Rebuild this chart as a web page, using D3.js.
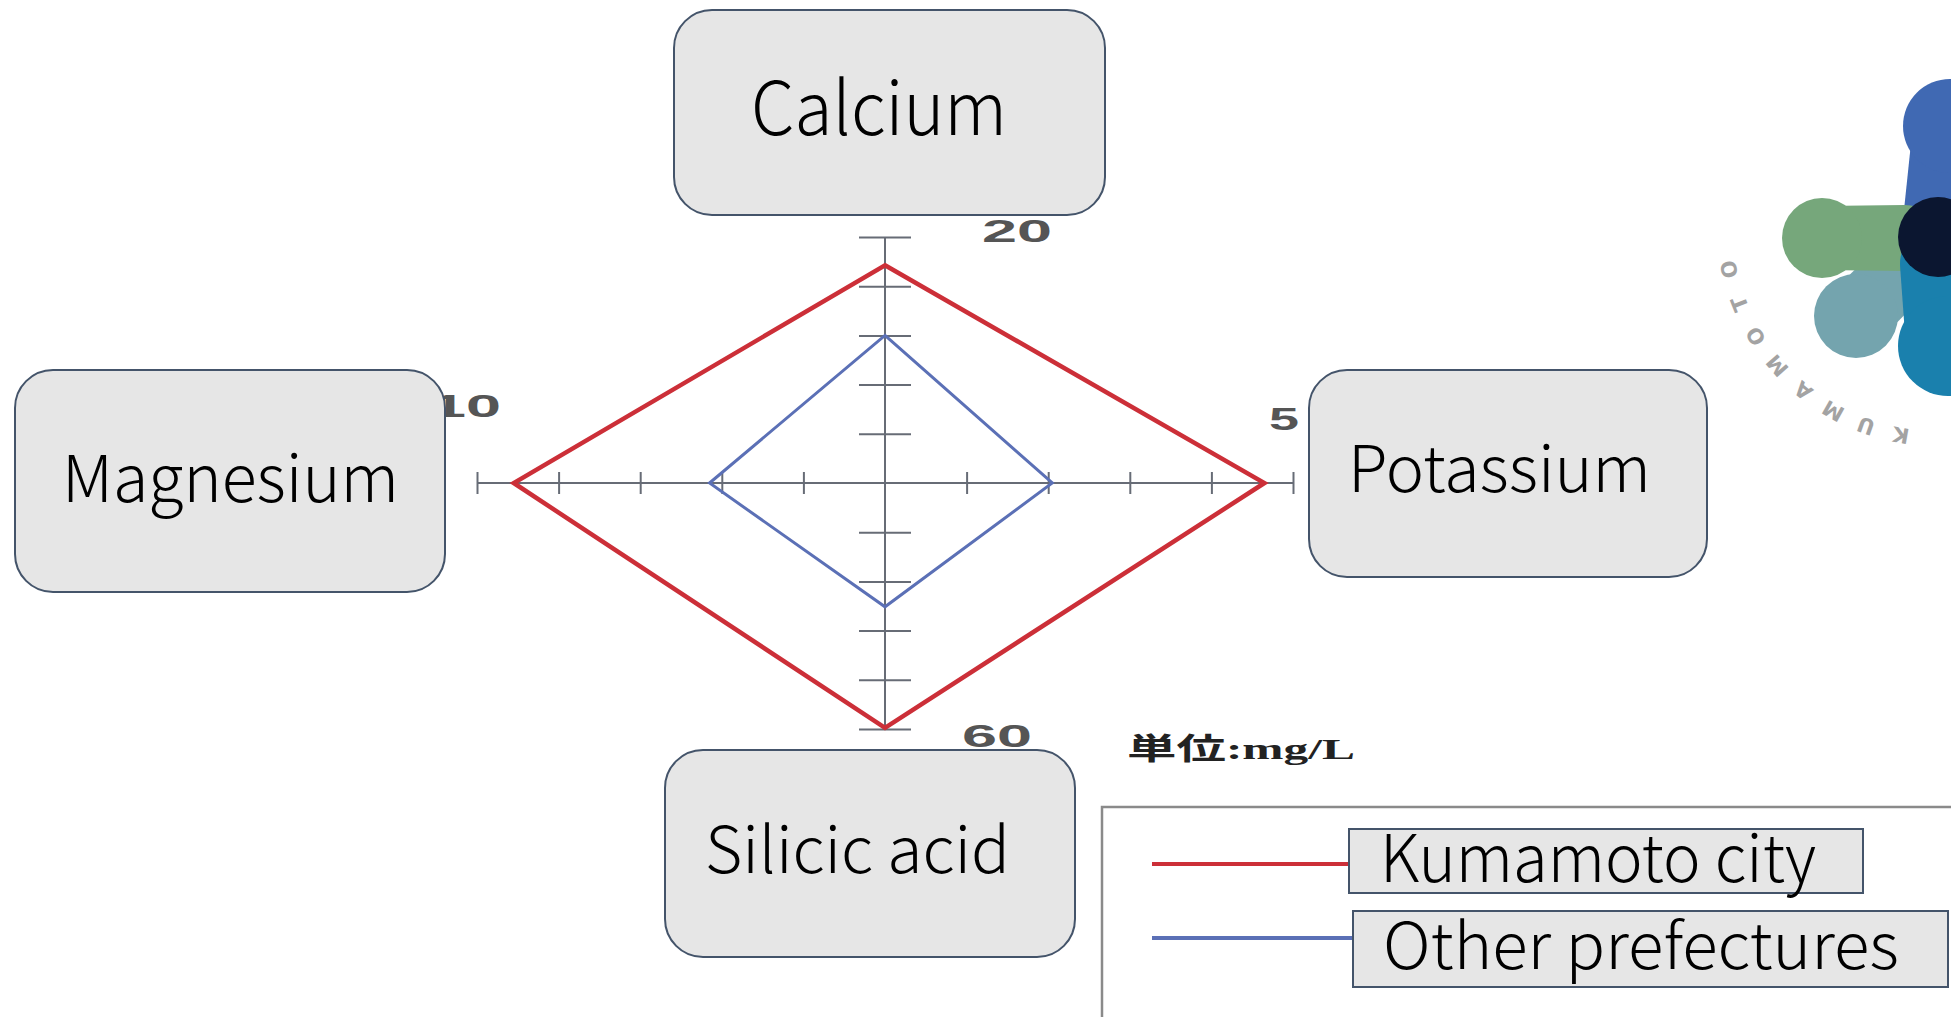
<!DOCTYPE html>
<html>
<head>
<meta charset="utf-8">
<script src="https://cdn.jsdelivr.net/npm/d3@7"></script>
<style>
  body { margin: 0; background: #fff; }
  svg { display: block; }
</style>
</head>
<body>
<svg></svg>
<script>
// axes go clockwise from the top: Calcium, Potassium, Silicic acid, Magnesium
const axisNames = ["Calcium", "Potassium", "Silicic acid", "Magnesium"];
const axisMax = [20, 5, 60, 10];
const axisStep = [4, 1, 12, 2];
const kumamotoValues = [17.7, 4.65, 59.7, 9.1];
const otherValues = [12.0, 2.05, 30.2, 4.3];
const seriesNames = ["Kumamoto city", "Other prefectures"];
const unitText = "単位:mg/L";
const logoLetters = ["K", "U", "M", "A", "M", "O", "T", "O"];

const width = 1951;
const height = 1017;
const cx = 885;
const cy = 483;
const radiusV = 246;
const radiusH = 408;
const axisColor = "#676c76";
const seriesColors = ["#cc2f38", "#5b70b6"];
const boxFill = "#e6e6e6";
const boxStroke = "#44546a";
const labelFont = "'Noto Sans CJK JP', 'Noto Sans', sans-serif";

const svg = d3.select("svg").attr("width", width).attr("height", height);

let scales = [];

function generateScales() {
  scales = axisMax.map((m, i) => {
    if (i === 0) return d3.scaleLinear().domain([0, m]).range([cy, cy - radiusV]);
    if (i === 1) return d3.scaleLinear().domain([0, m]).range([cx, cx + radiusH]);
    if (i === 2) return d3.scaleLinear().domain([0, m]).range([cy, cy + radiusV]);
    return d3.scaleLinear().domain([0, m]).range([cx, cx - radiusH]);
  });
}

function point(i, v) {
  return i % 2 === 0 ? [cx, scales[i](v)] : [scales[i](v), cy];
}

function drawAxes() {
  const g = svg.append("g").attr("id", "axes");

  g.append("line")
    .attr("x1", cx).attr("x2", cx)
    .attr("y1", scales[0](axisMax[0])).attr("y2", scales[2](axisMax[2]))
    .attr("stroke", axisColor).attr("stroke-width", 2);
  g.append("line")
    .attr("y1", cy).attr("y2", cy)
    .attr("x1", scales[3](axisMax[3])).attr("x2", scales[1](axisMax[1]))
    .attr("stroke", axisColor).attr("stroke-width", 2);

  axisMax.forEach((m, i) => {
    const tv = d3.range(axisStep[i], m + axisStep[i] / 2, axisStep[i]);
    let axis;
    let tr;
    if (i % 2 === 0) {
      axis = d3.axisLeft(scales[i]).tickSize(52);
      tr = `translate(${cx + 26}, 0)`;
    } else {
      axis = d3.axisTop(scales[i]).tickSize(22);
      tr = `translate(0, ${cy + 11})`;
    }
    axis.tickValues(tv).tickFormat("").tickSizeOuter(0);
    const ag = g.append("g").attr("transform", tr).call(axis);
    ag.select(".domain").remove();
    ag.selectAll(".tick line").attr("stroke", axisColor).attr("stroke-width", 2);
  });

  // max value labels beside the axis ends
  const offsets = [[97, 5], [-24, -53], [77, 18], [-46, -66]];
  const lengths = [70, 30, 70, 70];
  axisMax.forEach((m, i) => {
    const p = point(i, m);
    g.append("text")
      .attr("x", p[0] + offsets[i][0])
      .attr("y", p[1] + offsets[i][1])
      .attr("textLength", lengths[i])
      .attr("lengthAdjust", "spacingAndGlyphs")
      .style("font-family", "'Liberation Sans', Arial, sans-serif")
      .style("font-size", "31px")
      .style("font-weight", "bold")
      .style("fill", "#555")
      .text(m);
  });
}

function drawSeries() {
  const line = d3.line().curve(d3.curveLinearClosed);
  [kumamotoValues, otherValues].forEach((vals, s) => {
    svg.append("path")
      .attr("class", "series")
      .attr("d", line(vals.map((v, i) => point(i, v))))
      .attr("fill", "none")
      .attr("stroke", seriesColors[s])
      .attr("stroke-width", s === 0 ? 4.5 : 3)
      .attr("stroke-linejoin", "miter");
  });
}

// label boxes around the chart (same order as axisNames)
const boxLayout = [
  { x: 674, y: 10, w: 431, h: 205, tx: 751, ty: 135, fs: 74, len: 256 },
  { x: 1309, y: 370, w: 398, h: 207, tx: 1348, ty: 492, fs: 64, len: 303 },
  { x: 665, y: 750, w: 410, h: 207, tx: 705, ty: 873, fs: 64, len: 305 },
  { x: 15, y: 370, w: 430, h: 222, tx: 62, ty: 502, fs: 65, len: 337 }
];

function drawBoxes() {
  const g = svg.append("g").attr("id", "boxes");
  const b = g.selectAll("g").data(axisNames).enter().append("g");
  b.append("rect")
    .attr("x", (d, i) => boxLayout[i].x)
    .attr("y", (d, i) => boxLayout[i].y)
    .attr("width", (d, i) => boxLayout[i].w)
    .attr("height", (d, i) => boxLayout[i].h)
    .attr("rx", 38)
    .attr("fill", boxFill)
    .attr("stroke", boxStroke)
    .attr("stroke-width", 2);
  b.append("text")
    .attr("x", (d, i) => boxLayout[i].tx)
    .attr("y", (d, i) => boxLayout[i].ty)
    .attr("textLength", (d, i) => boxLayout[i].len)
    .attr("lengthAdjust", "spacingAndGlyphs")
    .style("font-family", labelFont)
    .style("font-size", (d, i) => boxLayout[i].fs + "px")
    .style("font-weight", 300)
    .style("fill", "#000")
    .text((d) => d);
}

function drawLegend() {
  const g = svg.append("g").attr("id", "legend");

  g.append("text")
    .attr("x", 1127)
    .attr("y", 759)
    .attr("textLength", 228)
    .attr("lengthAdjust", "spacingAndGlyphs")
    .style("font-family", "'Liberation Serif', 'Noto Sans CJK JP', serif")
    .style("font-size", "30px")
    .style("font-weight", "bold")
    .style("fill", "#222")
    .text(unitText);

  g.append("rect")
    .attr("x", 1102).attr("y", 807)
    .attr("width", 900).attr("height", 300)
    .attr("fill", "#fff")
    .attr("stroke", "#8a8a8a")
    .attr("stroke-width", 2.5);

  const items = [
    { ly: 864, bx: 1349, by: 829, bw: 514, bh: 64, tx: 1380, ty: 882, fs: 66, len: 436 },
    { ly: 938, bx: 1353, by: 911, bw: 595, bh: 76, tx: 1383, ty: 969, fs: 64, len: 516 }
  ];

  seriesNames.forEach((name, s) => {
    const it = items[s];
    g.append("line")
      .attr("x1", 1152).attr("x2", it.bx)
      .attr("y1", it.ly).attr("y2", it.ly)
      .attr("stroke", seriesColors[s])
      .attr("stroke-width", 4);
    g.append("rect")
      .attr("x", it.bx).attr("y", it.by)
      .attr("width", it.bw).attr("height", it.bh)
      .attr("fill", boxFill)
      .attr("stroke", boxStroke)
      .attr("stroke-width", 2);
    g.append("text")
      .attr("x", it.tx).attr("y", it.ty)
      .attr("textLength", it.len)
      .attr("lengthAdjust", "spacingAndGlyphs")
      .style("font-family", labelFont)
      .style("font-size", it.fs + "px")
      .style("font-weight", 300)
      .style("fill", "#000")
      .text(name);
  });
}

// hull of two circles [x, y, r]
function hullPath(a, b) {
  const pts = [];
  [a, b].forEach((c) => {
    d3.range(0, 72).forEach((k) => {
      const t = (k / 72) * 2 * Math.PI;
      pts.push([c[0] + c[2] * Math.cos(t), c[1] + c[2] * Math.sin(t)]);
    });
  });
  return d3.line().curve(d3.curveLinearClosed)(d3.polygonHull(pts));
}

function drawLogo() {
  const g = svg.append("g").attr("id", "logo");
  const center = [1938, 237, 40];
  // each petal: round head, slightly narrower neck widening into the centre
  const petals = [
    { head: [1950, 126, 47], neck: 37, base: [1940, 212, 36], c: "#4069b3" },
    { head: [1856, 316, 42], neck: 34, base: [1908, 264, 33], c: "#74a4ae" },
    { head: [1822, 238, 40], neck: 32, base: [1905, 238, 33], c: "#76a77b" },
    { head: [1948, 346, 50], neck: 42, base: [1940, 264, 40], c: "#1a80ad" }
  ];
  petals.forEach((p) => {
    const pg = g.append("g").attr("fill", p.c);
    pg.append("path").attr("d", hullPath([p.head[0], p.head[1], p.neck], p.base));
    pg.append("circle").attr("cx", p.head[0]).attr("cy", p.head[1]).attr("r", p.head[2]);
  });
  g.append("circle")
    .attr("cx", center[0]).attr("cy", center[1]).attr("r", center[2])
    .attr("fill", "#0b1630");

  const angle = d3.scaleLinear().domain([0, logoLetters.length - 1]).range([100, 168]);
  const ac = [1938, 225];
  const R = 213;
  g.selectAll(".logo-letter")
    .data(logoLetters)
    .enter()
    .append("text")
    .attr("class", "logo-letter")
    .attr("transform", (d, i) => {
      const a = angle(i);
      const rad = (a * Math.PI) / 180;
      const x = ac[0] + R * Math.cos(rad);
      const y = ac[1] + R * Math.sin(rad);
      return `translate(${x}, ${y}) rotate(${a + 90})`;
    })
    .attr("text-anchor", "middle")
    .attr("dominant-baseline", "central")
    .style("font-family", "'DejaVu Sans', sans-serif")
    .style("font-size", "21px")
    .style("font-weight", "bold")
    .style("fill", "#a3a3a3")
    .text((d) => d);
}

generateScales();
drawAxes();
drawSeries();
drawBoxes();
drawLegend();
drawLogo();
</script>
</body>
</html>
